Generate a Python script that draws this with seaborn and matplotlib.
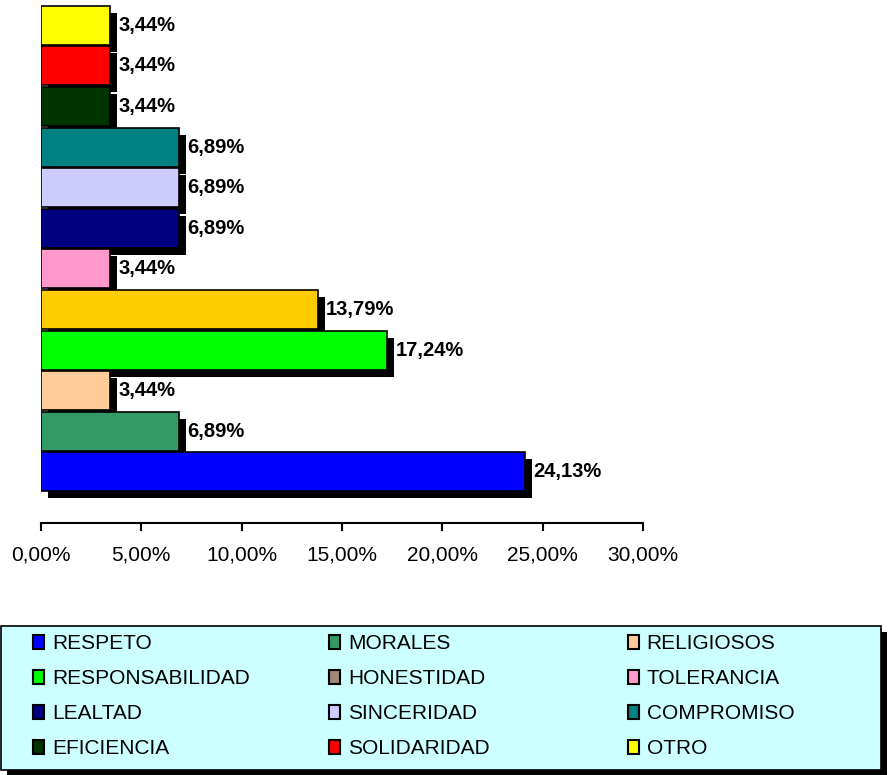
import matplotlib
matplotlib.use("Agg")
import matplotlib.pyplot as plt
import matplotlib.patheffects as pe
from matplotlib.patches import Patch, Rectangle
import pandas as pd
import seaborn as sns

# Values, listed from the top bar to the bottom bar
categorias = ["OTRO", "SOLIDARIDAD", "EFICIENCIA", "COMPROMISO", "SINCERIDAD",
              "LEALTAD", "TOLERANCIA", "HONESTIDAD", "RESPONSABILIDAD",
              "RELIGIOSOS", "MORALES", "RESPETO"]
porcentajes = [3.44, 3.44, 3.44, 6.89, 6.89, 6.89, 3.44, 13.79, 17.24,
               3.44, 6.89, 24.13]
colores = ["#FFFF00", "#FF0000", "#003300", "#008080", "#CCCCFF", "#000080",
           "#FF99CC", "#FFCC00", "#00FF00", "#FFCC99", "#339966", "#0000FF"]

# Legend order (row by row, three columns)
leyenda_orden = ["RESPETO", "MORALES", "RELIGIOSOS",
                 "RESPONSABILIDAD", "HONESTIDAD", "TOLERANCIA",
                 "LEALTAD", "SINCERIDAD", "COMPROMISO",
                 "EFICIENCIA", "SOLIDARIDAD", "OTRO"]
color_leyenda = dict(zip(categorias, colores))
color_leyenda["HONESTIDAD"] = "#A08878"

ticks = [0, 5, 10, 15, 20, 25, 30]

sns.set_style("white")
plt.rcParams["font.family"] = ["Liberation Sans", "DejaVu Sans"]
plt.rcParams["text.color"] = "black"
plt.rcParams["xtick.color"] = "black"
plt.rcParams["xtick.labelcolor"] = "black"

W, H = 889, 775
fig = plt.figure(figsize=(W / 100, H / 100), dpi=100)
ax = fig.add_axes([41 / W, 1 - 523 / H, 602 / W, 520 / H])

df = pd.DataFrame({"cat": categorias, "pct": porcentajes})
sns.barplot(data=df, x="pct", y="cat", hue="cat", order=categorias,
            hue_order=categorias, palette=colores, orient="h", width=0.96,
            edgecolor="black", linewidth=1.2, saturation=1, legend=False,
            errorbar=None, ax=ax)

# drop shadows: lower bars drawn later so they cover the shadow above
for p in ax.patches:
    p.set_zorder(2 + p.get_y() * 0.01)
    p.set_path_effects([pe.SimplePatchShadow(offset=(5, -5), shadow_rgbFace="black",
                                             alpha=1.0), pe.Normal()])

for i, v in enumerate(porcentajes):
    ax.annotate(f"{v:.2f}".replace(".", ",") + "%", xy=(v, i), xytext=(6, 0),
                textcoords="offset points", va="center", ha="left",
                fontsize=14.5, fontweight="bold", color="black", zorder=10)

ax.set_xlim(0, 30)
ax.set_ylim(12.26, -0.55)
ax.set_xticks(ticks)
ax.set_xticklabels([f"{t:.2f}".replace(".", ",") + "%" for t in ticks],
                   fontsize=15, color="black")
ax.set_yticks([])
ax.set_xlabel("")
ax.set_ylabel("")
for s in ["left", "right", "top"]:
    ax.spines[s].set_visible(False)
ax.spines["bottom"].set_linewidth(1.5)
ax.spines["bottom"].set_color("black")
ax.tick_params(axis="x", direction="out", length=6, width=1.5, color="black",
               pad=10, bottom=True)

# legend box with shadow
caja = Rectangle((1 / W, 1 - 770 / H), 880 / W, 144 / H, transform=fig.transFigure,
                 facecolor="#CCFFFF", edgecolor="black", linewidth=1.2, zorder=0)
caja.set_path_effects([pe.SimplePatchShadow(offset=(4, -4), shadow_rgbFace="black",
                                            alpha=1.0), pe.Normal()])
fig.patches.append(caja)

col_x = [33, 329, 628]
for c in range(3):
    nombres = leyenda_orden[c::3]
    handles = [Patch(facecolor=color_leyenda[n], edgecolor="black", linewidth=1.5)
               for n in nombres]
    leg = fig.legend(handles, nombres, loc="upper left",
                     bbox_to_anchor=(col_x[c] / W, 1 - 634 / H), frameon=False,
                     fontsize=15, handlelength=0.55, handleheight=0.65,
                     handletextpad=0.35, labelspacing=0.77, borderpad=0,
                     borderaxespad=0)
    for t in leg.get_texts():
        t.set_color("black")

fig.savefig("out.png", dpi=100)
